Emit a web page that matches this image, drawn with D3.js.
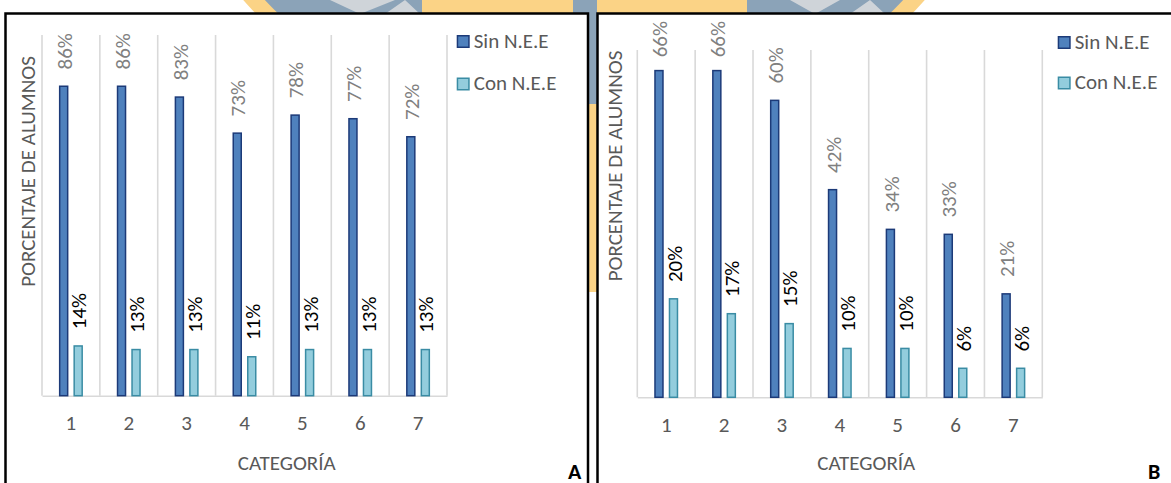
<!DOCTYPE html>
<html>
<head>
<meta charset="utf-8">
<script src="https://cdn.jsdelivr.net/npm/d3@7"></script>
<style>
  html, body { margin: 0; padding: 0; background: #ffffff; }
  svg { display: block; }
  text { font-family: Carlito, Calibri, Lato, "Noto Sans", sans-serif; }
</style>
</head>
<body>
<svg id="chart" width="1171" height="483"></svg>
<script>
// ---- data ----
const categories = ["1", "2", "3", "4", "5", "6", "7"];
const seriesNames = ["Sin N.E.E", "Con N.E.E"];
const sinNeeA = [86, 86, 83, 73, 78, 77, 72];
const conNeeA = [14, 13, 13, 11, 13, 13, 13];
const sinNeeB = [66, 66, 60, 42, 34, 33, 21];
const conNeeB = [20, 17, 15, 10, 10, 6, 6];
const yMaxA = 100;
const yMaxB = 70;
const xTitle = "CATEGORÍA";
const yTitle = "PORCENTAJE DE ALUMNOS";
const panelLetters = ["A", "B"];

// ---- styling ----
const sinFill = "#4f81bd", sinStroke = "#1c3a78";
const conFill = "#93cddd", conStroke = "#3a8ca4";
const gridColor = "#d9d9d9";
const axisText = "#595959";
const FONT = 21;

const svg = d3.select("#chart");

// ---- faded emblem behind the two chart frames ----
const bg = svg.append("g").attr("class", "emblem");
const blueGray = "#8ba3b8", gold = "#fbd386", paleGray = "#cfd4d9";
bg.append("circle").attr("cx", 584).attr("cy", -300).attr("r", 446)
  .attr("fill", blueGray).attr("stroke", gold).attr("stroke-width", 16);
bg.append("rect").attr("x", 422).attr("y", 0).attr("width", 151).attr("height", 14).attr("fill", gold);
bg.append("rect").attr("x", 597).attr("y", 0).attr("width", 150).attr("height", 14).attr("fill", gold);
bg.append("path").attr("d", "M330,0 L360,14 L395,0 Z M385,14 L405,0 L420,14 Z").attr("fill", paleGray);
bg.append("path").attr("d", "M790,0 L815,14 L840,0 Z M850,14 L870,0 L885,14 Z").attr("fill", paleGray);
bg.append("rect").attr("x", 588).attr("y", 14).attr("width", 10).attr("height", 90).attr("fill", blueGray);
bg.append("rect").attr("x", 588).attr("y", 104).attr("width", 10).attr("height", 188).attr("fill", gold);

// ---- chart frames ----
const frames = [
  { x: 5.5, y: 13.5, w: 582.5, h: 520 },
  { x: 597.5, y: 13.5, w: 620, h: 520 }
];
svg.selectAll("rect.frame").data(frames).join("rect")
  .attr("class", "frame")
  .attr("x", d => d.x).attr("y", d => d.y)
  .attr("width", d => d.w).attr("height", d => d.h)
  .attr("fill", "#ffffff").attr("stroke", "#000000").attr("stroke-width", 2.5);

// ---- panel layouts ----
const panels = [
  {
    sin: sinNeeA, con: conNeeA, max: yMaxA, letter: panelLetters[0],
    x0: 42, x1: 447, yTop: 35, yBase: 395.7,
    legendX: 456.7, legendY: [35, 77.5],
    xTitleX: 286.7, yTitleX: 35, yTitleY: 171.5,
    letterX: 568
  },
  {
    sin: sinNeeB, con: conNeeB, max: yMaxB, letter: panelLetters[1],
    x0: 637.3, x1: 1042.3, yTop: 50, yBase: 397.3,
    legendX: 1057.7, legendY: [36, 76.5],
    xTitleX: 866.3, yTitleX: 622, yTitleY: 166,
    letterX: 1148
  }
];

const barW = 9.5, barOffset = 7.25, labelGap = 16, labelTopLimit = 21;

panels.forEach(p => {
  const g = svg.append("g");
  const x = d3.scaleBand().domain(categories).range([p.x0, p.x1]).padding(0);
  const y = d3.scaleLinear().domain([0, p.max]).range([p.yBase, p.yTop]);

  // vertical category gridlines
  const bounds = categories.map(c => x(c)).concat([p.x1]);
  g.selectAll("line.grid").data(bounds).join("line")
    .attr("x1", d => d).attr("x2", d => d)
    .attr("y1", y(p.max)).attr("y2", y(0))
    .attr("stroke", gridColor).attr("stroke-width", 1.6);

  // category axis
  const axis = g.append("g").attr("transform", `translate(0,${y(0)})`)
    .call(d3.axisBottom(x).tickSize(0).tickPadding(0));
  axis.select(".domain").attr("stroke", gridColor).attr("stroke-width", 1.6);
  axis.selectAll(".tick text")
    .attr("y", 34.5).attr("dy", 0)
    .attr("fill", axisText)
    .style("font-size", FONT + "px")
    .style("font-family", "Carlito, Calibri, Lato, 'Noto Sans', sans-serif");

  const rows = categories.map((c, i) => ({ c, sin: p.sin[i], con: p.con[i] }));
  const center = c => x(c) + x.bandwidth() / 2;

  // bars
  const series = [
    { key: "sin", dx: -barOffset, fill: sinFill, stroke: sinStroke, label: "#808080" },
    { key: "con", dx: barOffset, fill: conFill, stroke: conStroke, label: "#000000" }
  ];
  series.forEach(s => {
    g.selectAll(`rect.bar-${s.key}`).data(rows).join("rect")
      .attr("class", `bar-${s.key}`)
      .attr("x", d => center(d.c) + s.dx - barW / 2 + 0.75)
      .attr("y", d => y(d[s.key]) + 0.75)
      .attr("width", barW - 1.5)
      .attr("height", d => y(0) - y(d[s.key]) - 0.75)
      .attr("fill", s.fill).attr("stroke", s.stroke).attr("stroke-width", 1.5);

    // rotated value labels above each bar
    g.selectAll(`text.lab-${s.key}`).data(rows).join("text")
      .attr("class", `lab-${s.key}`)
      .attr("text-anchor", "start")
      .attr("dy", "0.35em")
      .attr("fill", s.label)
      .style("font-size", FONT + "px")
      .text(d => d[s.key] + "%")
      .each(function (d) {
        const len = this.getComputedTextLength();
        let start = y(d[s.key]) - labelGap;
        if (start - len < labelTopLimit) start = labelTopLimit + len;
        d3.select(this).attr("transform",
          `translate(${center(d.c) + s.dx + 0.8},${start}) rotate(-90)`);
      });
  });

  // axis titles
  g.append("text").attr("x", p.xTitleX).attr("y", 470)
    .attr("text-anchor", "middle").attr("fill", axisText)
    .style("font-size", FONT + "px").text(xTitle);
  g.append("text")
    .attr("transform", `translate(${p.yTitleX},${p.yTitleY}) rotate(-90)`)
    .attr("text-anchor", "middle").attr("fill", axisText)
    .style("font-size", FONT + "px").text(yTitle);

  // legend
  const leg = g.selectAll("g.leg").data(series).join("g")
    .attr("transform", (d, i) => `translate(${p.legendX},${p.legendY[i]})`);
  leg.append("rect").attr("x", 0.75).attr("y", 0.75)
    .attr("width", 11.5).attr("height", 11.5)
    .attr("fill", d => d.fill).attr("stroke", d => d.stroke).attr("stroke-width", 1.5);
  leg.append("text").attr("x", 17).attr("y", 12.5)
    .attr("fill", axisText).style("font-size", FONT + "px")
    .text((d, i) => seriesNames[i]);

  // panel letter
  g.append("text").attr("x", p.letterX).attr("y", 478.5)
    .attr("fill", "#000").style("font-size", "22px").style("font-weight", "bold")
    .text(p.letter);
});
</script>
</body>
</html>
